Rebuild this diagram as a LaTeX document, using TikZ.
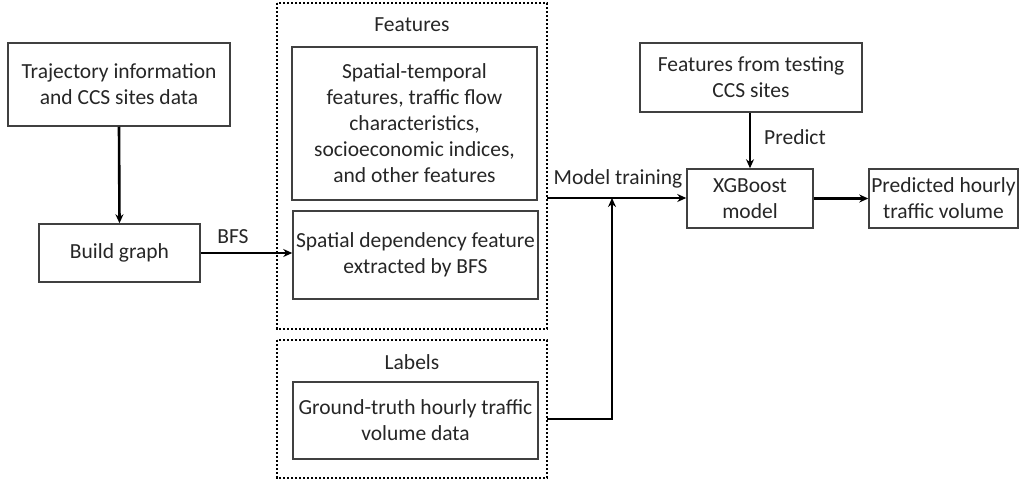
\documentclass[tikz,border=0pt]{standalone}
\usepackage{fontspec}
\setmainfont{Carlito}
\usetikzlibrary{arrows.meta}
\begin{document}
\begin{tikzpicture}[x=1pt,y=-1pt,
  font=\fontsize{21.5}{26}\selectfont,
  box/.style={draw=black!75,line width=1.5pt,align=center,inner sep=0pt,text=black!85},
  grp/.style={draw=black,line width=2.8pt,dash pattern=on 2.2pt off 1.8pt},
  conn/.style={line width=2.6pt,-{Stealth[length=9pt,width=8pt]}},
  lbl/.style={text=black!85,inner sep=0pt}]
\useasboundingbox (0,0) rectangle (1021,482);
\node[box,minimum width=222pt,minimum height=83pt] (traj) at (119,84.5) {Trajectory information\\and CCS sites data};
\node[box,minimum width=161pt,minimum height=58pt] (build) at (119.5,253) {Build graph};
\draw[grp] (277,3) rectangle (547,329);
\draw[grp] (277,340) rectangle (547,478);
\coordinate (fdE) at (547,198);
\coordinate (ldE) at (547,419);
\node[lbl] (ftitle) at (412,25) {Features};
\node[lbl] (ltitle) at (412,362) {Labels};
\node[box,minimum width=245pt,minimum height=153pt] (f1) at (414.5,123.5) {Spatial-temporal\\features, traffic flow\\characteristics,\\socioeconomic indices,\\and other features};
\node[box,minimum width=245pt,minimum height=88pt] (f2) at (415.5,255) {Spatial dependency feature\\extracted by BFS};
\node[box,minimum width=245pt,minimum height=77pt] (gt) at (415.5,420.5) {Ground-truth hourly traffic\\volume data};
\node[box,minimum width=126pt,minimum height=59pt] (xgb) at (750,198.5) {XGBoost\\model};
\node[box,minimum width=149pt,minimum height=59pt] (pred) at (943.5,198.5) {Predicted hourly\\traffic volume};
\node[box,minimum width=222pt,minimum height=69pt] (test) at (751,77.5) {Features from testing\\CCS sites};
\coordinate (join) at (612,198);
\draw[conn] (traj.south) -- (build.north);
\draw[conn] (build.east) -- (build.east -| f2.west);
\node[lbl] (bfs) at (233,237) {BFS};
\draw[conn] (fdE) -- (fdE -| xgb.west);
\node[lbl] (mt) at (618,179) {Model training};
\draw[conn] (ldE) -| (join);
\draw[conn] (test.south -| xgb.north) -- (xgb.north);
\node[lbl] (pr) at (795,137) {Predict};
\draw[conn] (xgb.east) -- (xgb.east -| pred.west);
\end{tikzpicture}
\end{document}
